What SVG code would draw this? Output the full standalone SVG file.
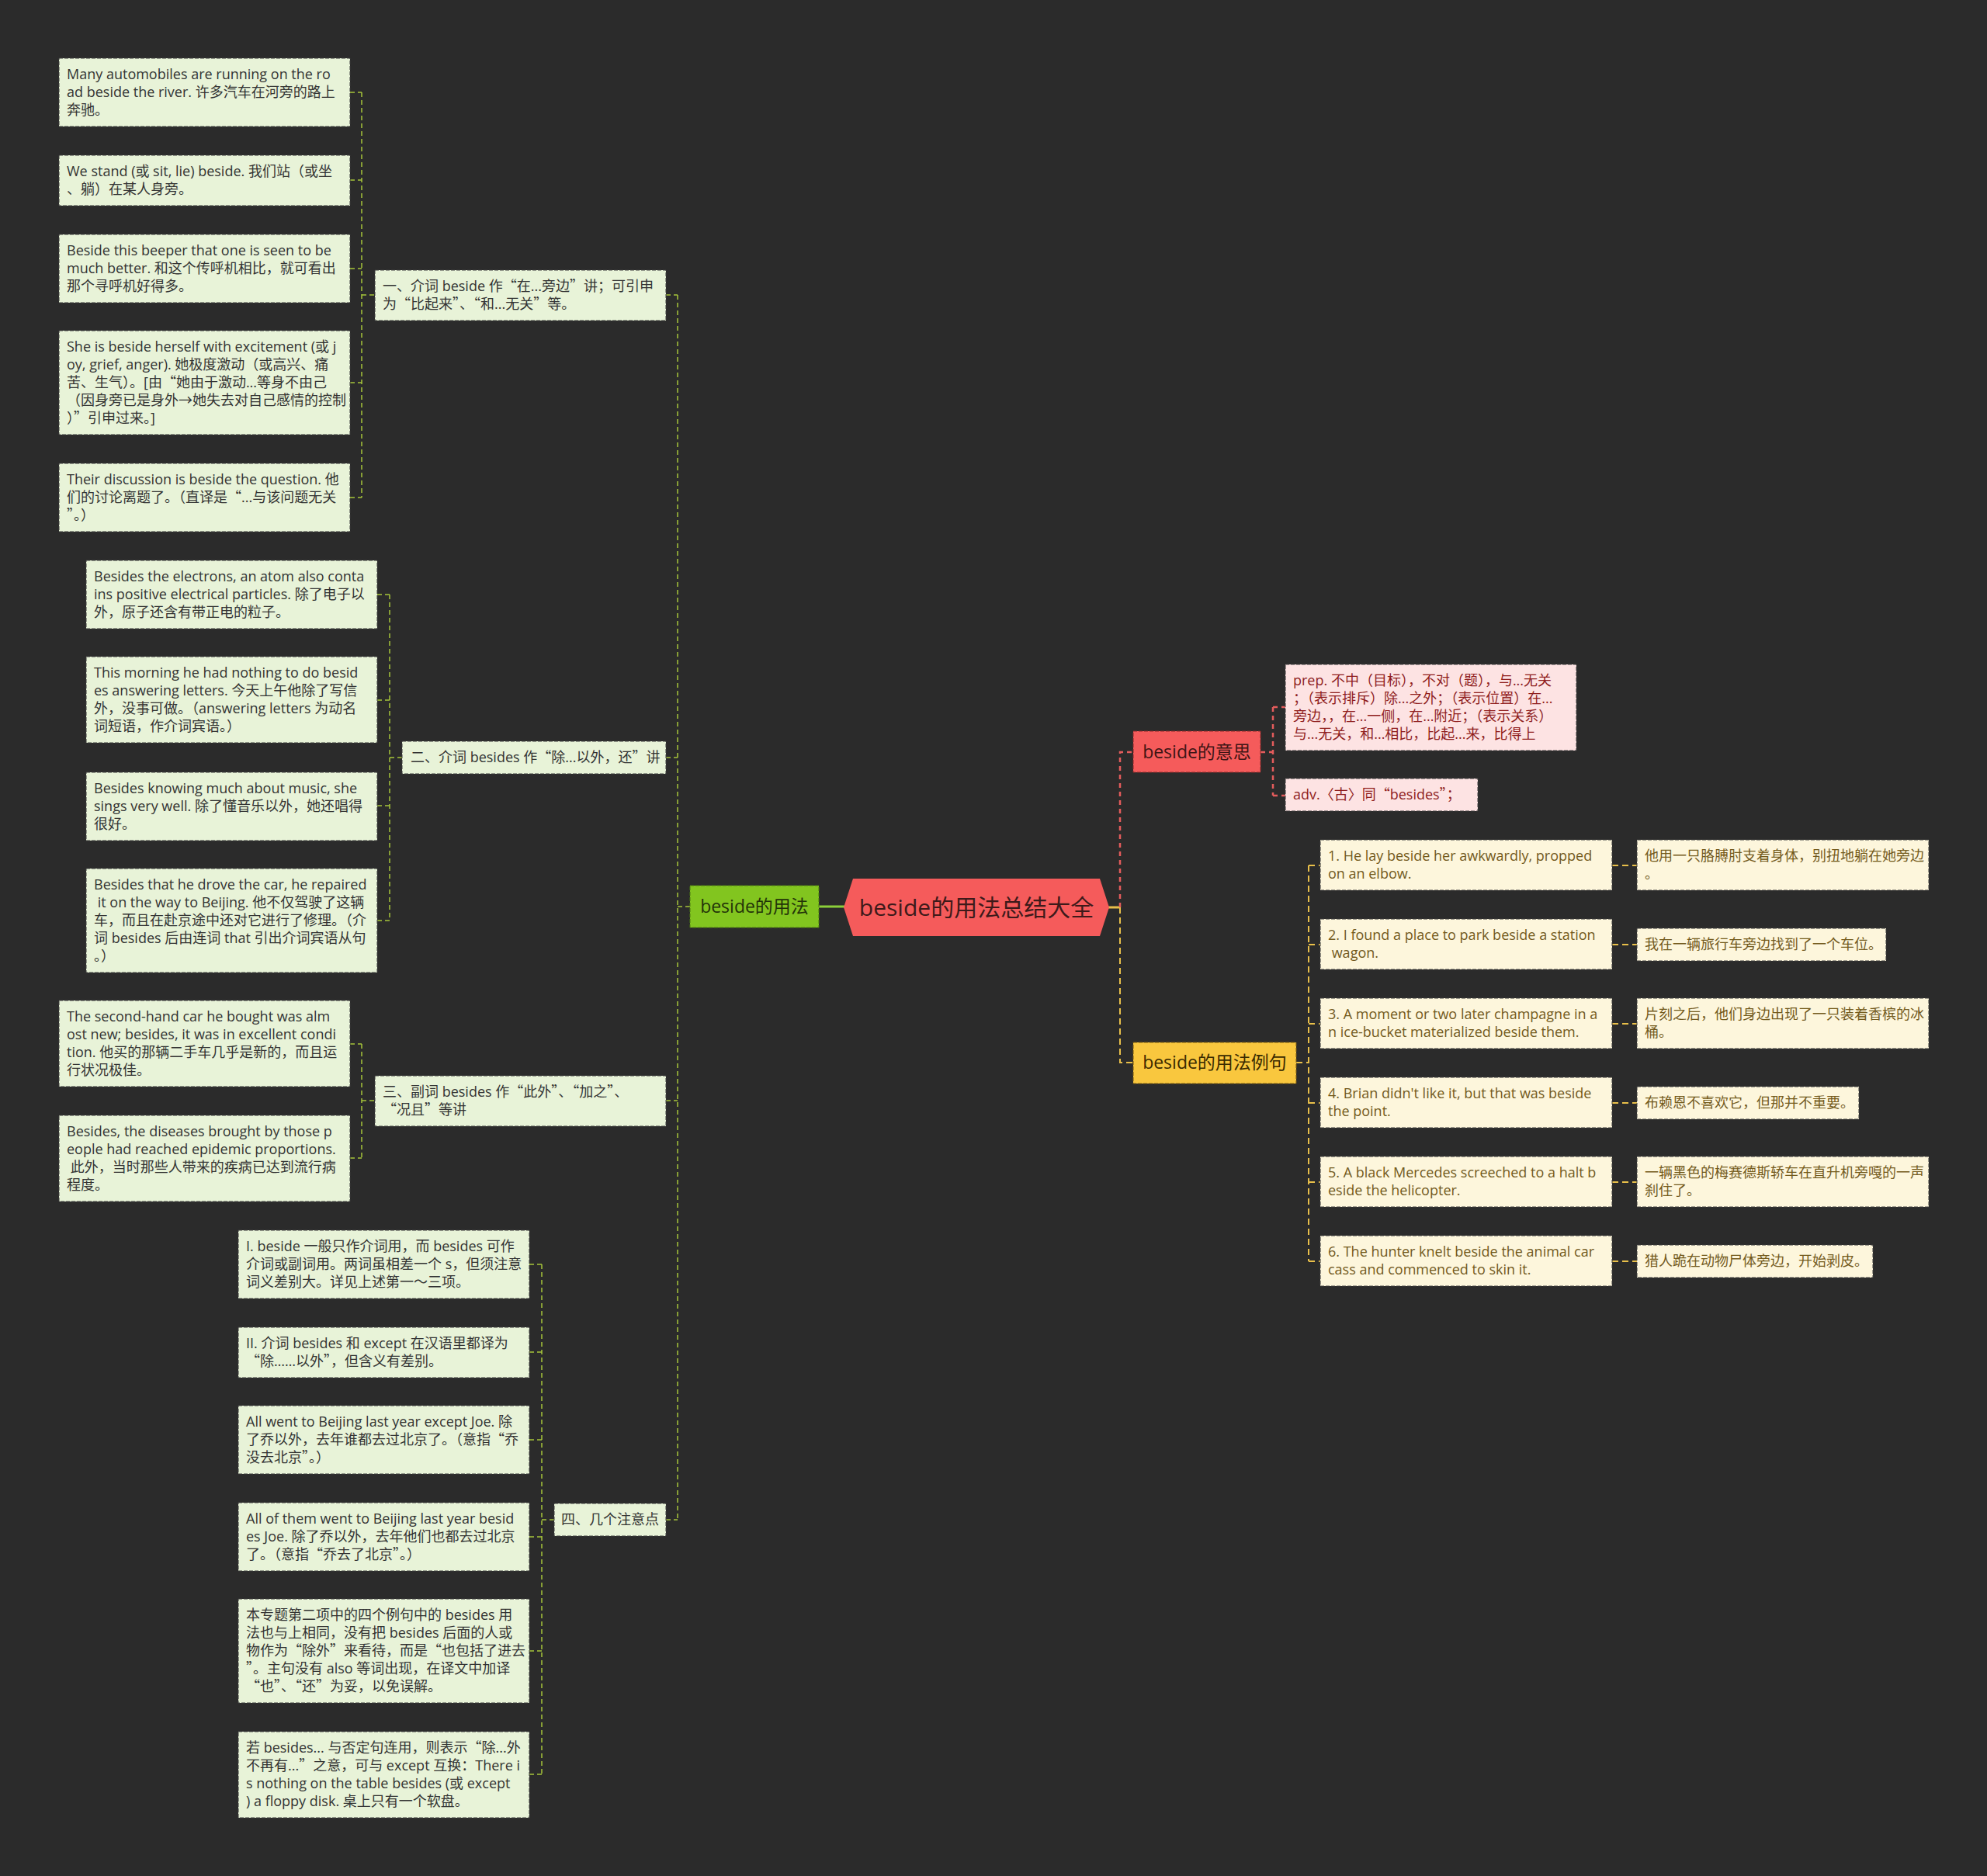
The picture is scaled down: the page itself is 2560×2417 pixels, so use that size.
<svg xmlns="http://www.w3.org/2000/svg" width="2560" height="2417" viewBox="0 0 2560 2417">
<style>
.t{font-family:"Open Sans","Noto Sans CJK SC",sans-serif;font-size:18px}
.q{font-family:"Noto Sans CJK SC",sans-serif}
.gb{fill:#e8f3d8;stroke:#3c3c3c;stroke-width:1;stroke-dasharray:5 2}
.gt{fill:#333333}
.cb{fill:#fdf6dc;stroke:#3c3c3c;stroke-width:1;stroke-dasharray:5 2}
.ct{fill:#735a1c}
.pb{fill:#fde3e3;stroke:#3c3c3c;stroke-width:1;stroke-dasharray:5 2}
.pt{fill:#8f1d1d}
.nt{font-family:"Open Sans","Noto Sans CJK SC",sans-serif;font-size:23px;text-anchor:middle}
.lg{fill:none;stroke:#a6c53b;stroke-width:1.5;stroke-dasharray:6 4}
.ly{fill:none;stroke:#e8bf4a;stroke-width:2;stroke-dasharray:8 5}
.lr{fill:none;stroke:#e45c5c;stroke-width:2.5;stroke-dasharray:6 5}
</style>
<rect width="2560" height="2417" fill="#2b2b2b"/>

<g id="connectors">
  <path class="lg" d="M451,119 H466 M451,232 H466 M451,346 H466 M451,493 H466 M451,641 H466 M466,119 V641 M466,380 H483"/>
  <path class="lg" d="M486,766 H502 M486,902 H502 M486,1038 H502 M486,1186 H502 M502,766 V1186 M502,976 H518"/>
  <path class="lg" d="M451,1345 H466 M451,1492 H466 M466,1345 V1492 M466,1418 H483"/>
  <path class="lg" d="M682,1629 H698 M682,1742 H698 M682,1855 H698 M682,1980 H698 M682,2127 H698 M682,2286 H698 M698,1629 V2286 M698,1958 H714"/>
  <path class="lg" d="M858,380 H873 M858,976 H873 M858,1418 H873 M858,1958 H873 M873,380 V1958 M873,1168 H889"/>
  <line x1="1055" y1="1168" x2="1088" y2="1168" stroke="#8ccf3a" stroke-width="3"/>
  <line x1="1428" y1="1169" x2="1443" y2="1169" stroke="#e8bf4a" stroke-width="3"/>
  <path class="lr" d="M1443,1169 V969 H1460"/>
  <path class="ly" d="M1443,1169 V1369 H1460"/>
  <path class="lr" d="M1624,969 H1640 M1640,911 V1025 M1640,911 H1656 M1640,1025 H1656"/>
  <path class="ly" d="M1670,1369 H1686 M1686,1115 V1625 M1686,1115 H1701 M1686,1217 H1701 M1686,1319 H1701 M1686,1421 H1701 M1686,1523 H1701 M1686,1625 H1701"/>
  <path class="ly" d="M2077,1115 H2109 M2077,1217 H2109 M2077,1319 H2109 M2077,1421 H2109 M2077,1523 H2109 M2077,1625 H2109"/>
</g>

<g id="root">
  <polygon points="1087,1169 1099,1132 1417,1132 1429,1169 1417,1206 1099,1206" fill="#f55b5b"/>
  <text x="1258" y="1180" class="nt" style="font-size:30px" fill="#3d1a1a">beside的用法总结大全</text>
</g>

<g id="usage">
  <rect x="889" y="1141" width="166" height="54" fill="#82c51f" stroke="#4d7a12" stroke-width="1" stroke-dasharray="5 2"/>
  <text x="972" y="1176" class="nt" fill="#223309">beside的用法</text>
</g>

<g id="meaning">
  <rect x="1460" y="942" width="164" height="53" fill="#f55b5b" stroke="#8a2a2a" stroke-width="1" stroke-dasharray="5 2"/>
  <text x="1542" y="977" class="nt" fill="#3d1515">beside的意思</text>
</g>

<g id="examples">
  <rect x="1460" y="1343" width="210" height="53" fill="#f9c73e" stroke="#7a5a10" stroke-width="1" stroke-dasharray="5 2"/>
  <text x="1565" y="1377" class="nt" fill="#3a2a00">beside的用法例句</text>
</g>

<g id="s1">
  <rect class="gb" x="483" y="348" width="375" height="65"/>
  <text class="t gt"><tspan x="493" y="375">一、介词 beside 作<tspan class="q">“</tspan>在...旁边<tspan class="q">”</tspan>讲；可引申</tspan><tspan x="493" y="398">为<tspan class="q">“</tspan>比起来<tspan class="q">”</tspan>、<tspan class="q">“</tspan>和...无关<tspan class="q">”</tspan>等。</tspan></text>
</g>
<g id="a1">
  <rect class="gb" x="76" y="75" width="375" height="88"/>
  <text class="t gt"><tspan x="86" y="102">Many automobiles are running on the ro</tspan><tspan x="86" y="125">ad beside the river. 许多汽车在河旁的路上</tspan><tspan x="86" y="148">奔驰。</tspan></text>
</g>
<g id="a2">
  <rect class="gb" x="76" y="200" width="375" height="65"/>
  <text class="t gt"><tspan x="86" y="227">We stand (或 sit, lie) beside. 我们站（或坐</tspan><tspan x="86" y="250">、躺）在某人身旁。</tspan></text>
</g>
<g id="a3">
  <rect class="gb" x="76" y="302" width="375" height="88"/>
  <text class="t gt"><tspan x="86" y="329">Beside this beeper that one is seen to be</tspan><tspan x="86" y="352">much better. 和这个传呼机相比，就可看出</tspan><tspan x="86" y="375">那个寻呼机好得多。</tspan></text>
</g>
<g id="a4">
  <rect class="gb" x="76" y="426" width="375" height="134"/>
  <text class="t gt"><tspan x="86" y="453">She is beside herself with excitement (或 j</tspan><tspan x="86" y="476">oy, grief, anger). 她极度激动（或高兴、痛</tspan><tspan x="86" y="499">苦、生气）。[由<tspan class="q">“</tspan>她由于激动...等身不由己</tspan><tspan x="86" y="522">（因身旁已是身外→她失去对自己感情的控制</tspan><tspan x="86" y="545">）<tspan class="q">”</tspan>引申过来。]</tspan></text>
</g>
<g id="a5">
  <rect class="gb" x="76" y="597" width="375" height="88"/>
  <text class="t gt"><tspan x="86" y="624">Their discussion is beside the question. 他</tspan><tspan x="86" y="647">们的讨论离题了。（直译是<tspan class="q">“</tspan>...与该问题无关</tspan><tspan x="86" y="670"><tspan class="q">”</tspan>。）</tspan></text>
</g>

<g id="s2">
  <rect class="gb" x="518" y="955" width="340" height="42"/>
  <text class="t gt"><tspan x="529" y="982">二、介词 besides 作<tspan class="q">“</tspan>除...以外，还<tspan class="q">”</tspan>讲</tspan></text>
</g>
<g id="b1">
  <rect class="gb" x="111" y="722" width="375" height="88"/>
  <text class="t gt"><tspan x="121" y="749">Besides the electrons, an atom also conta</tspan><tspan x="121" y="772">ins positive electrical particles. 除了电子以</tspan><tspan x="121" y="795">外，原子还含有带正电的粒子。</tspan></text>
</g>
<g id="b2">
  <rect class="gb" x="111" y="846" width="375" height="111"/>
  <text class="t gt"><tspan x="121" y="873">This morning he had nothing to do besid</tspan><tspan x="121" y="896">es answering letters. 今天上午他除了写信</tspan><tspan x="121" y="919">外，没事可做。（answering letters 为动名</tspan><tspan x="121" y="942">词短语，作介词宾语。）</tspan></text>
</g>
<g id="b3">
  <rect class="gb" x="111" y="995" width="375" height="88"/>
  <text class="t gt"><tspan x="121" y="1022">Besides knowing much about music, she</tspan><tspan x="121" y="1045">sings very well. 除了懂音乐以外，她还唱得</tspan><tspan x="121" y="1068">很好。</tspan></text>
</g>
<g id="b4">
  <rect class="gb" x="111" y="1119" width="375" height="134"/>
  <text class="t gt" xml:space="preserve"><tspan x="121" y="1146">Besides that he drove the car, he repaired</tspan><tspan x="121" y="1169"> it on the way to Beijing. 他不仅驾驶了这辆</tspan><tspan x="121" y="1192">车，而且在赴京途中还对它进行了修理。（介</tspan><tspan x="121" y="1215">词 besides 后由连词 that 引出介词宾语从句</tspan><tspan x="121" y="1238">。）</tspan></text>
</g>

<g id="s3">
  <rect class="gb" x="483" y="1386" width="375" height="65"/>
  <text class="t gt"><tspan x="493" y="1413">三、副词 besides 作<tspan class="q">“</tspan>此外<tspan class="q">”</tspan>、<tspan class="q">“</tspan>加之<tspan class="q">”</tspan>、</tspan><tspan x="493" y="1436"><tspan class="q">“</tspan>况且<tspan class="q">”</tspan>等讲</tspan></text>
</g>
<g id="c1">
  <rect class="gb" x="76" y="1289" width="375" height="111"/>
  <text class="t gt"><tspan x="86" y="1316">The second-hand car he bought was alm</tspan><tspan x="86" y="1339">ost new; besides, it was in excellent condi</tspan><tspan x="86" y="1362">tion. 他买的那辆二手车几乎是新的，而且运</tspan><tspan x="86" y="1385">行状况极佳。</tspan></text>
</g>
<g id="c2">
  <rect class="gb" x="76" y="1437" width="375" height="111"/>
  <text class="t gt" xml:space="preserve"><tspan x="86" y="1464">Besides, the diseases brought by those p</tspan><tspan x="86" y="1487">eople had reached epidemic proportions.</tspan><tspan x="86" y="1510"> 此外，当时那些人带来的疾病已达到流行病</tspan><tspan x="86" y="1533">程度。</tspan></text>
</g>

<g id="s4">
  <rect class="gb" x="714" y="1937" width="144" height="42"/>
  <text class="t gt" text-anchor="middle"><tspan x="786" y="1964">四、几个注意点</tspan></text>
</g>
<g id="d1">
  <rect class="gb" x="307" y="1585" width="375" height="88"/>
  <text class="t gt"><tspan x="317" y="1612">I. beside 一般只作介词用，而 besides 可作</tspan><tspan x="317" y="1635">介词或副词用。两词虽相差一个 s，但须注意</tspan><tspan x="317" y="1658">词义差别大。详见上述第一～三项。</tspan></text>
</g>
<g id="d2">
  <rect class="gb" x="307" y="1710" width="375" height="65"/>
  <text class="t gt"><tspan x="317" y="1737">II. 介词 besides 和 except 在汉语里都译为</tspan><tspan x="317" y="1760"><tspan class="q">“</tspan>除……以外<tspan class="q">”</tspan>，但含义有差别。</tspan></text>
</g>
<g id="d3">
  <rect class="gb" x="307" y="1811" width="375" height="88"/>
  <text class="t gt"><tspan x="317" y="1838">All went to Beijing last year except Joe. 除</tspan><tspan x="317" y="1861">了乔以外，去年谁都去过北京了。（意指<tspan class="q">“</tspan>乔</tspan><tspan x="317" y="1884">没去北京<tspan class="q">”</tspan>。）</tspan></text>
</g>
<g id="d4">
  <rect class="gb" x="307" y="1936" width="375" height="88"/>
  <text class="t gt"><tspan x="317" y="1963">All of them went to Beijing last year besid</tspan><tspan x="317" y="1986">es Joe. 除了乔以外，去年他们也都去过北京</tspan><tspan x="317" y="2009">了。（意指<tspan class="q">“</tspan>乔去了北京<tspan class="q">”</tspan>。）</tspan></text>
</g>
<g id="d5">
  <rect class="gb" x="307" y="2060" width="375" height="134"/>
  <text class="t gt"><tspan x="317" y="2087">本专题第二项中的四个例句中的 besides 用</tspan><tspan x="317" y="2110">法也与上相同，没有把 besides 后面的人或</tspan><tspan x="317" y="2133">物作为<tspan class="q">“</tspan>除外<tspan class="q">”</tspan>来看待，而是<tspan class="q">“</tspan>也包括了进去</tspan><tspan x="317" y="2156"><tspan class="q">”</tspan>。主句没有 also 等词出现，在译文中加译</tspan><tspan x="317" y="2179"><tspan class="q">“</tspan>也<tspan class="q">”</tspan>、<tspan class="q">“</tspan>还<tspan class="q">”</tspan>为妥，以免误解。</tspan></text>
</g>
<g id="d6">
  <rect class="gb" x="307" y="2231" width="375" height="111"/>
  <text class="t gt"><tspan x="317" y="2258">若 besides... 与否定句连用，则表示<tspan class="q">“</tspan>除...外</tspan><tspan x="317" y="2281">不再有...<tspan class="q">”</tspan>之意，可与 except 互换：There i</tspan><tspan x="317" y="2304">s nothing on the table besides (或 except</tspan><tspan x="317" y="2327">) a floppy disk. 桌上只有一个软盘。</tspan></text>
</g>

<g id="p1">
  <rect class="pb" x="1656" y="856" width="375" height="111"/>
  <text class="t pt"><tspan x="1666" y="883">prep. 不中（目标），不对（题），与...无关</tspan><tspan x="1666" y="906">；（表示排斥）除...之外；（表示位置）在...</tspan><tspan x="1666" y="929">旁边，，在...一侧，在...附近；（表示关系）</tspan><tspan x="1666" y="952">与...无关，和...相比，比起...来，比得上</tspan></text>
</g>
<g id="p2">
  <rect class="pb" x="1656" y="1003" width="248" height="42"/>
  <text class="t pt"><tspan x="1666" y="1030">adv.〈古〉同<tspan class="q">“</tspan>besides<tspan class="q">”</tspan>；</tspan></text>
</g>

<g id="e1">
  <rect class="cb" x="1701" y="1082" width="376" height="65"/>
  <text class="t ct"><tspan x="1711" y="1109">1. He lay beside her awkwardly, propped</tspan><tspan x="1711" y="1132">on an elbow.</tspan></text>
</g>
<g id="f1">
  <rect class="cb" x="2109" y="1082" width="376" height="65"/>
  <text class="t ct"><tspan x="2119" y="1109">他用一只胳膊肘支着身体，别扭地躺在她旁边</tspan><tspan x="2119" y="1132">。</tspan></text>
</g>
<g id="e2">
  <rect class="cb" x="1701" y="1184" width="376" height="65"/>
  <text class="t ct" xml:space="preserve"><tspan x="1711" y="1211">2. I found a place to park beside a station</tspan><tspan x="1711" y="1234"> wagon.</tspan></text>
</g>
<g id="f2">
  <rect class="cb" x="2109" y="1196" width="321" height="42"/>
  <text class="t ct"><tspan x="2119" y="1223">我在一辆旅行车旁边找到了一个车位。</tspan></text>
</g>
<g id="e3">
  <rect class="cb" x="1701" y="1286" width="376" height="65"/>
  <text class="t ct"><tspan x="1711" y="1313">3. A moment or two later champagne in a</tspan><tspan x="1711" y="1336">n ice-bucket materialized beside them.</tspan></text>
</g>
<g id="f3">
  <rect class="cb" x="2109" y="1286" width="376" height="65"/>
  <text class="t ct"><tspan x="2119" y="1313">片刻之后，他们身边出现了一只装着香槟的冰</tspan><tspan x="2119" y="1336">桶。</tspan></text>
</g>
<g id="e4">
  <rect class="cb" x="1701" y="1388" width="376" height="65"/>
  <text class="t ct"><tspan x="1711" y="1415">4. Brian didn't like it, but that was beside</tspan><tspan x="1711" y="1438">the point.</tspan></text>
</g>
<g id="f4">
  <rect class="cb" x="2109" y="1400" width="286" height="42"/>
  <text class="t ct"><tspan x="2119" y="1427">布赖恩不喜欢它，但那并不重要。</tspan></text>
</g>
<g id="e5">
  <rect class="cb" x="1701" y="1490" width="376" height="65"/>
  <text class="t ct"><tspan x="1711" y="1517">5. A black Mercedes screeched to a halt b</tspan><tspan x="1711" y="1540">eside the helicopter.</tspan></text>
</g>
<g id="f5">
  <rect class="cb" x="2109" y="1490" width="376" height="65"/>
  <text class="t ct"><tspan x="2119" y="1517">一辆黑色的梅赛德斯轿车在直升机旁嘎的一声</tspan><tspan x="2119" y="1540">刹住了。</tspan></text>
</g>
<g id="e6">
  <rect class="cb" x="1701" y="1592" width="376" height="65"/>
  <text class="t ct"><tspan x="1711" y="1619">6. The hunter knelt beside the animal car</tspan><tspan x="1711" y="1642">cass and commenced to skin it.</tspan></text>
</g>
<g id="f6">
  <rect class="cb" x="2109" y="1604" width="304" height="42"/>
  <text class="t ct"><tspan x="2119" y="1631">猎人跪在动物尸体旁边，开始剥皮。</tspan></text>
</g>
</svg>
